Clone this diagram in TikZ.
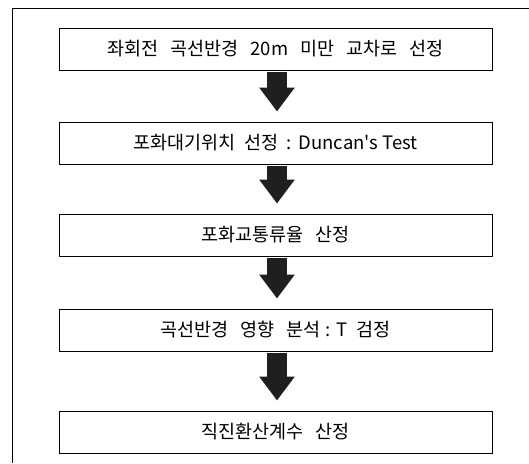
\documentclass[tikz,border=0pt]{standalone}
\usepackage{fontspec}
\newfontfamily\kr{Noto Sans CJK KR}
\usetikzlibrary{arrows.meta}
\tikzset{
  stepbox/.style={draw=black, line width=0.9pt, minimum width=433pt, minimum height=42pt, inner sep=0pt, font=\kr\fontsize{18.5pt}{21pt}\selectfont, text=black},
  bigarrow/.style={line width=20pt, draw=black!88, -{Triangle[width=34pt,length=24pt]}, shorten <=1.5pt, shorten >=10pt}
}
\begin{document}
\begin{tikzpicture}[x=1pt,y=-1pt]
\useasboundingbox (0,0) rectangle (529,463);
\draw[line width=0.8pt] (12,463) -- (12,8) -- (529,8);
\node[stepbox] (b1) at (275.5,49) {좌회전\hspace{0.65em}곡선반경\hspace{0.65em}20m\hspace{0.65em}미만\hspace{0.65em}교차로\hspace{0.65em}선정};
\node[stepbox] (b2) at (275.5,143) {포화대기위치\hspace{0.5em}선정\hspace{0.4em}:\hspace{0.4em}Duncan's Test};
\node[stepbox] (b3) at (275.5,235) {포화교통류율\hspace{0.6em}산정};
\node[stepbox] (b4) at (275.5,330) {곡선반경\hspace{0.65em}영향\hspace{0.65em}분석\hspace{0.3em}:\hspace{0.3em}T\hspace{0.5em}검정};
\node[stepbox] (b5) at (275.5,432) {직진환산계수\hspace{0.6em}산정};
\draw[bigarrow] (b1.south -| 277,0) -- (b2.north -| 277,0);
\draw[bigarrow] (b2.south -| 277,0) -- (b3.north -| 277,0);
\draw[bigarrow] (b3.south -| 277,0) -- (b4.north -| 277,0);
\draw[bigarrow] (b4.south -| 277,0) -- (b5.north -| 277,0);
\end{tikzpicture}
\end{document}
